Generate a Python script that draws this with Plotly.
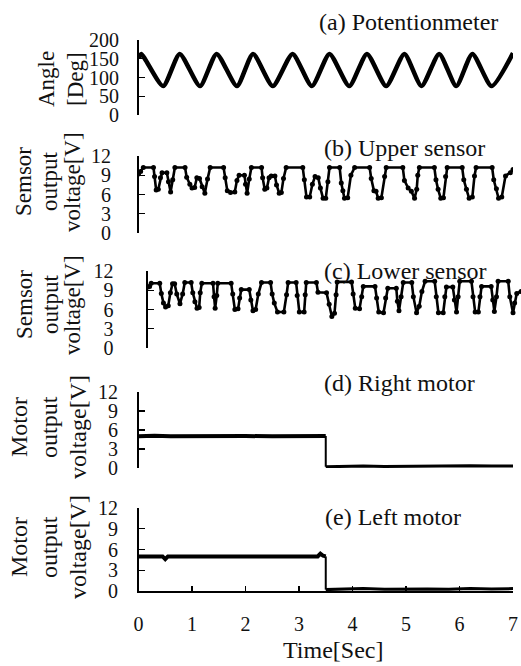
import plotly.graph_objects as go

W, H = 521, 666

# ---------------- data ----------------
time_ticks = [0, 1, 2, 3, 4, 5, 6, 7]
angle_ticks = [0, 50, 100, 150, 200]
volt_ticks = [0, 3, 6, 9, 12]

panel_titles = ["(a) Potentionmeter", "(b) Upper sensor", "(c) Lower sensor",
                "(d) Right motor", "(e) Left motor"]
y_title_lines = [["Angle", "[Deg]"],
                 ["Semsor", "output", "voltage[V]"],
                 ["Semsor", "output", "voltage[V]"],
                 ["Motor", "output", "voltage[V]"],
                 ["Motor", "output", "voltage[V]"]]
x_title = "Time[Sec]"

pot_t = [0.00, 0.05, 0.46, 0.77, 1.15, 1.46, 1.84, 2.14, 2.51, 2.88, 3.24,
         3.57, 3.94, 4.27, 4.63, 4.97, 5.29, 5.62, 5.94, 6.24, 6.60, 7.00]
pot_v = [152, 163, 77, 163, 77, 163, 77, 163, 77, 163, 77,
         163, 77, 163, 77, 163, 77, 163, 77, 163, 77, 165]

upper_t = [0.00, 0.04, 0.09, 0.28, 0.30, 0.33, 0.37, 0.41, 0.44, 0.53, 0.56, 0.60,
           0.64, 0.68, 0.87, 0.90, 0.96, 1.00, 1.05, 1.09, 1.14, 1.19, 1.24, 1.29,
           1.34, 1.59, 1.62, 1.66, 1.72, 1.80, 1.84, 1.88, 1.98, 2.00, 2.03, 2.07,
           2.11, 2.30, 2.32, 2.36, 2.40, 2.44, 2.48, 2.55, 2.58, 2.63, 2.67, 2.71,
           2.76, 3.07, 3.10, 3.14, 3.20, 3.25, 3.30, 3.36, 3.40, 3.45, 3.50, 3.54,
           3.57, 3.76, 3.79, 3.82, 3.85, 3.91, 3.97, 4.04, 4.32, 4.35, 4.40, 4.44,
           4.48, 4.54, 4.60, 4.63, 4.94, 4.97, 5.04, 5.10, 5.16, 5.20, 5.22, 5.25,
           5.53, 5.56, 5.60, 5.65, 5.70, 5.74, 5.77, 6.05, 6.08, 6.13, 6.18, 6.24,
           6.28, 6.31, 6.61, 6.64, 6.69, 6.73, 6.79, 6.86, 6.95, 7.00]
upper_v = [9.2, 9.6, 10.2, 10.2, 8.8, 6.7, 6.8, 8.6, 9.4, 9.4, 8.0, 6.4,
           8.3, 10.2, 10.2, 8.7, 7.6, 7.0, 7.1, 8.6, 8.5, 7.2, 6.2, 8.4,
           10.2, 10.2, 8.6, 6.6, 6.3, 6.4, 8.2, 9.0, 9.0, 7.6, 6.2, 8.4,
           10.2, 10.2, 8.6, 6.8, 7.0, 8.6, 8.9, 8.9, 7.5, 6.2, 6.3, 8.5,
           10.2, 10.2, 8.3, 5.6, 5.6, 7.6, 8.8, 8.6, 7.0, 5.4, 5.4, 8.0,
           10.2, 10.2, 7.8, 6.6, 5.4, 5.5, 9.0, 10.2, 10.2, 8.5, 6.6, 6.5,
           5.4, 5.5, 8.8, 10.2, 10.2, 8.2, 7.0, 6.5, 5.4, 6.8, 9.0, 10.2,
           10.2, 8.3, 6.8, 5.4, 5.5, 8.8, 10.2, 10.2, 8.3, 6.8, 5.4, 5.6,
           8.9, 10.2, 10.2, 8.3, 6.9, 5.4, 5.6, 8.9, 9.4, 9.9]

lower_t = [0.00, 0.03, 0.06, 0.22, 0.25, 0.29, 0.33, 0.38, 0.42, 0.46, 0.50, 0.54,
           0.60, 0.65, 0.69, 0.81, 0.84, 0.88, 0.92, 0.96, 0.98, 1.01, 1.22, 1.24,
           1.26, 1.29, 1.31, 1.56, 1.59, 1.63, 1.69, 1.72, 1.75, 1.90, 1.93, 1.97,
           2.02, 2.07, 2.13, 2.30, 2.33, 2.37, 2.43, 2.55, 2.60, 2.63, 2.78, 2.80,
           2.84, 2.93, 2.95, 2.97, 3.16, 3.19, 3.35, 3.40, 3.45, 3.50, 3.53, 3.55,
           3.82, 3.85, 3.89, 3.97, 4.01, 4.04, 4.26, 4.29, 4.33, 4.42, 4.46, 4.50,
           4.66, 4.68, 4.71, 4.75, 4.79, 4.95, 4.98, 5.04, 5.09, 5.14, 5.20, 5.38,
           5.41, 5.45, 5.54, 5.57, 5.60, 5.72, 5.75, 5.79, 5.82, 5.85, 6.07, 6.10,
           6.14, 6.20, 6.23, 6.26, 6.44, 6.47, 6.50, 6.54, 6.57, 6.76, 6.79, 6.85,
           6.88, 6.92, 7.00]
lower_v = [9.5, 9.6, 10.1, 10.1, 8.5, 7.0, 6.4, 6.6, 8.6, 10.0, 10.0, 8.4,
           6.9, 8.4, 10.2, 10.2, 8.6, 7.2, 6.2, 6.3, 8.6, 10.1, 10.1, 8.0,
           6.2, 8.2, 10.1, 10.1, 8.4, 6.0, 6.1, 7.8, 9.1, 9.1, 7.5, 5.8,
           6.0, 8.4, 10.2, 10.2, 8.4, 7.0, 5.6, 5.6, 8.3, 10.2, 10.2, 8.2,
           5.6, 5.6, 8.3, 10.2, 10.2, 8.7, 8.6, 6.8, 4.9, 5.4, 8.3, 10.3,
           10.3, 8.4, 6.2, 6.1, 8.0, 9.6, 9.6, 7.8, 5.6, 5.5, 7.8, 9.3,
           9.3, 7.3, 5.8, 8.0, 10.2, 10.2, 8.0, 5.5, 6.5, 8.8, 10.4, 10.4,
           8.0, 5.5, 5.5, 8.0, 9.5, 9.5, 7.5, 5.6, 8.0, 10.4, 10.4, 8.0,
           5.6, 5.6, 8.0, 9.6, 9.6, 7.5, 5.7, 8.0, 10.4, 10.4, 8.0, 5.5,
           7.0, 8.5, 8.8]

right_on_t = [0.0, 0.3, 0.6, 1.0, 1.5, 2.0, 2.5, 3.0, 3.5]
right_on_v = [5.0, 5.1, 5.0, 5.05, 5.0, 5.05, 5.0, 5.0, 5.05]
right_off_t = [3.5, 3.8, 4.2, 4.6, 5.0, 5.4, 5.8, 6.2, 6.6, 7.0]
right_off_v = [0.2, 0.25, 0.3, 0.25, 0.3, 0.35, 0.3, 0.35, 0.3, 0.3]

left_on_t = [0.0, 0.45, 0.5, 0.55, 1.0, 2.0, 3.0, 3.35, 3.4, 3.45, 3.5]
left_on_v = [5.0, 5.0, 4.6, 5.0, 5.0, 5.0, 5.0, 5.0, 5.4, 5.1, 5.0]
left_off_t = [3.5, 3.8, 4.2, 4.6, 5.0, 5.4, 5.8, 6.2, 6.6, 7.0]
left_off_v = [0.2, 0.3, 0.35, 0.25, 0.3, 0.3, 0.25, 0.35, 0.3, 0.35]

# ---------------- layout helpers ----------------
INK = "#111111"
FONT = "Liberation Serif, Times New Roman, serif"

def px_x(p):
    return p / W

def px_y(p):
    return 1 - p / H

panels = [(138.5, 513, 40, 115),
          (138.5, 513, 156, 233),
          (148, 521, 271, 348),
          (138.5, 513, 392, 468),
          (138.5, 513, 508, 591)]
y_ranges = [[0, 200], [0, 12], [0, 12], [0, 12], [0, 12]]
y_tickvals = [angle_ticks, volt_ticks, volt_ticks, volt_ticks, volt_ticks]
label_standoff = [14, 22, 29, 15, 15]

title_pos = [(317, 22), (322, 148), (322, 271), (322, 383), (323, 517)]
ytitle_x = [[46, 75], [24, 50, 73], [24, 50, 72], [19, 49, 78], [19, 49, 78]]
ytitle_y = [79, 182, 305, 427, 547]
ytitle_size = [23, 23, 23, 24, 24]

fig = go.Figure()

def add(i, xs, ys, width, markers=False, shape="linear"):
    fig.add_trace(go.Scatter(
        x=xs, y=ys, xaxis=f"x{i+1}", yaxis=f"y{i+1}",
        mode="lines+markers" if markers else "lines",
        line=dict(color="#000000", width=width, shape=shape,
                  **({"smoothing": 0.6} if shape == "spline" else {})),
        marker=dict(size=5, color="#000000"),
        showlegend=False, hoverinfo="skip"))

add(0, pot_t, pot_v, 4.5, shape="spline")
add(1, upper_t, upper_v, 2.6, markers=True)
add(2, lower_t, lower_v, 2.6, markers=True)
add(3, right_on_t, right_on_v, 4)
add(3, [right_on_t[-1], right_off_t[0]], [right_on_v[-1], right_off_v[0]], 2)
add(3, right_off_t, right_off_v, 3)
add(4, left_on_t, left_on_v, 4)
add(4, [left_on_t[-1], left_off_t[0]], [left_on_v[-1], left_off_v[0]], 2)
add(4, left_off_t, left_off_v, 3)

layout = dict(
    template="none",
    width=W, height=H, margin=dict(l=0, r=0, t=0, b=0, pad=0, autoexpand=False),
    paper_bgcolor="white", plot_bgcolor="white",
    font=dict(family=FONT, color=INK),
    showlegend=False,
)

for i, (xl, xr, yt, yb) in enumerate(panels):
    last = (i == 4)
    layout[f"xaxis{i+1}"] = dict(
        domain=[px_x(xl), min(1.0, px_x(xr))], range=[0, 7], anchor=f"y{i+1}",
        automargin=False, showgrid=False, zeroline=False,
        showline=last, linecolor="#000000", linewidth=1.6,
        ticks="inside" if last else "", ticklen=5, tickwidth=1.4, tickcolor="#000000",
        tickvals=time_ticks, showticklabels=last,
        tickfont=dict(size=20, family=FONT, color=INK),
        ticklabelstandoff=14, ticklabeloverflow="allow",
    )
    layout[f"yaxis{i+1}"] = dict(
        domain=[px_y(yb), px_y(yt)], range=y_ranges[i], anchor=f"x{i+1}",
        automargin=False, showgrid=False, zeroline=False,
        showline=True, linecolor="#000000", linewidth=1.6,
        ticks="inside", ticklen=6, tickwidth=1.4, tickcolor="#000000",
        tickvals=y_tickvals[i],
        tickfont=dict(size=20, family=FONT, color=INK),
        ticklabelstandoff=label_standoff[i], ticklabeloverflow="allow",
    )

annotations = []
for i, t in enumerate(panel_titles):
    x, y = title_pos[i]
    annotations.append(dict(
        text=t, xref="paper", yref="paper", x=px_x(x), y=px_y(y),
        xanchor="left", yanchor="middle", showarrow=False,
        font=dict(size=24, family=FONT, color=INK)))
    for j, line in enumerate(y_title_lines[i]):
        annotations.append(dict(
            text=line, xref="paper", yref="paper",
            x=px_x(ytitle_x[i][j]), y=px_y(ytitle_y[i]),
            xanchor="center", yanchor="middle", textangle=-90, showarrow=False,
            borderpad=0,
            font=dict(size=ytitle_size[i], family=FONT, color=INK)))

annotations.append(dict(
    text=x_title, xref="paper", yref="paper", x=px_x(333), y=px_y(650),
    xanchor="center", yanchor="middle", showarrow=False,
    font=dict(size=24, family=FONT, color=INK)))

layout["annotations"] = annotations
fig.update_layout(**layout)
fig.write_html("out.html",
               config={"displayModeBar": False, "staticPlot": True},
               post_script="document.body.style.margin='0px';"
                           "document.documentElement.style.overflow='hidden';")
